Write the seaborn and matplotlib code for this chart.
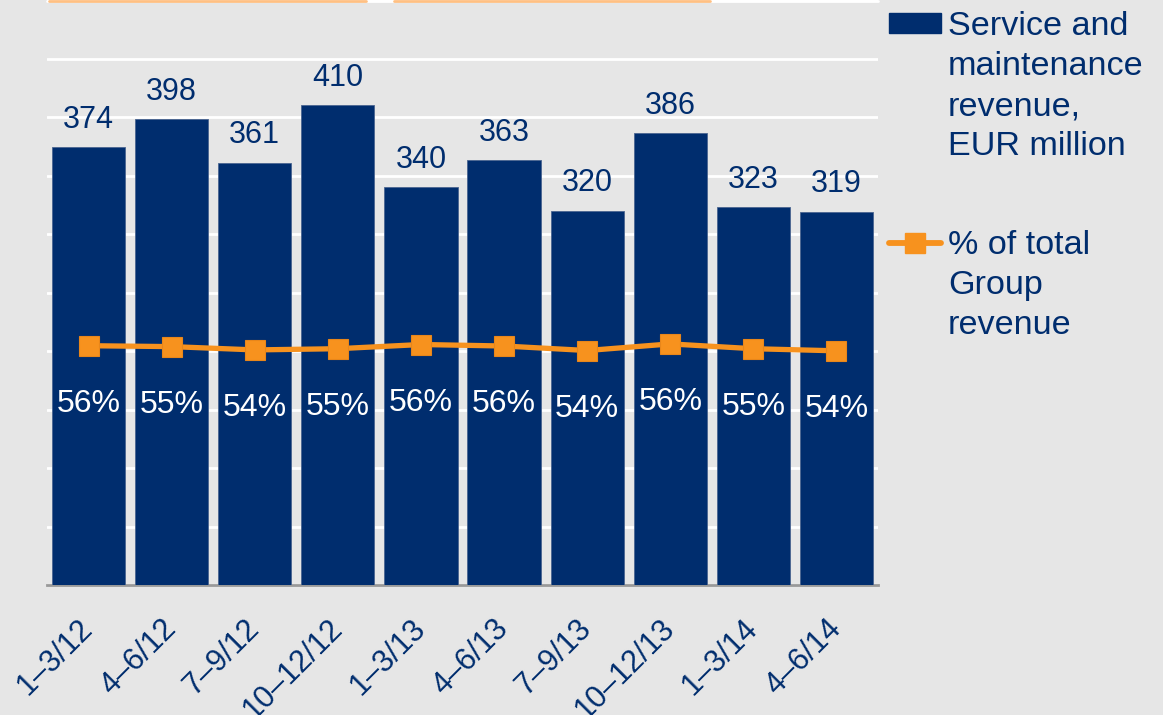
import matplotlib
matplotlib.use("Agg")
import matplotlib.pyplot as plt
import seaborn as sns
import numpy as np
import pandas as pd
from matplotlib.lines import Line2D
from matplotlib.patches import Patch

quarters = ["1–3/12", "4–6/12", "7–9/12", "10–12/12", "1–3/13",
            "4–6/13", "7–9/13", "10–12/13", "1–3/14", "4–6/14"]
revenue = [374, 398, 361, 410, 340, 363, 320, 386, 323, 319]
pct = [56, 55, 54, 55, 56, 56, 54, 56, 55, 54]
pct_pos = [55.8, 55.5, 54.4, 54.8, 56.2, 55.7, 54.2, 56.4, 54.8, 54.1]
legend_bar = ["Service and", "maintenance", "revenue,", "EUR million"]
legend_line = ["% of total", "Group", "revenue"]

NAVY = "#002d6e"
ORANGE = "#f7921e"
BG = "#e6e6e6"

sns.set_theme(style="white")
plt.rcParams["font.family"] = ["Liberation Sans", "DejaVu Sans"]

fig = plt.figure(figsize=(11.63, 7.15), dpi=100, facecolor=BG)
W, H = 1163, 715
ax = fig.add_axes([47 / W, 1 - 585 / H, (878 - 47) / W, 585 / H])
ax.set_facecolor(BG)

df = pd.DataFrame({"q": quarters, "rev": revenue})
sns.barplot(data=df, x="q", y="rev", ax=ax, color=NAVY, width=0.88,
            saturation=1, edgecolor="#4a6590", linewidth=0.6, zorder=3)
ax.set_ylim(0, 500)
ax.set_xlim(-0.5, 9.5)
ax.set_yticks(np.arange(0, 501, 50))
ax.set_yticklabels([])
ax.yaxis.grid(True, color="white", linewidth=2, zorder=0)
ax.set_axisbelow(True)
ax.tick_params(axis="y", length=0)
ax.tick_params(axis="x", length=0, pad=28)
for s in ["left", "right", "top"]:
    ax.spines[s].set_visible(False)
ax.spines["bottom"].set_color("#999999")
ax.spines["bottom"].set_linewidth(2)
ax.set_xlabel("")
ax.set_ylabel("")
ax.set_xticks(range(len(quarters)))
ax.set_xticklabels(quarters, rotation=45, ha="right", va="center",
                   rotation_mode="anchor", fontsize=22, color=NAVY)

ax.bar_label(ax.containers[0], labels=[str(v) for v in revenue],
             padding=9, fontsize=22, color=NAVY)

ax2 = ax.twinx()
ax2.set_ylim(-23.8, 170.8)
sns.lineplot(x=np.arange(len(pct)), y=pct_pos, ax=ax2, color=ORANGE,
             linewidth=3.8, marker="s", markersize=14.5, markeredgecolor="#e8861a",
             markeredgewidth=0.8, markerfacecolor=ORANGE, zorder=5)
ax2.set_yticks([])
for s in ax2.spines.values():
    s.set_visible(False)
ax2.set_ylabel("")
for i, (p, pp) in enumerate(zip(pct, pct_pos)):
    ax2.annotate(f"{p}%", (i, pp), xytext=(0, -42), textcoords="offset points",
                 ha="center", va="center", fontsize=23, color="white")

# top decoration lines
fig.add_artist(Line2D([47 / W, 878 / W], [1 - 0.5 / H] * 2, color="white", lw=2))
fig.add_artist(Line2D([49 / W, 366 / W], [1 - 0.5 / H] * 2, color="#ffc083", lw=2))
fig.add_artist(Line2D([394 / W, 710 / W], [1 - 0.5 / H] * 2, color="#ffc083", lw=2))

# legend: one entry per block, first line in the legend, rest as text lines
FS = 24.6
TEXT_X = 948
PITCH = 40
entries = [
    (Patch(facecolor=NAVY, edgecolor=NAVY), legend_bar, 35),
    (Line2D([0], [0], color=ORANGE, lw=4.2, marker="s", markersize=14.5,
            markerfacecolor=ORANGE, markeredgecolor=ORANGE), legend_line, 254),
]
legs = []
for handle, lines, base_y in entries:
    leg = fig.legend([handle], [lines[0]], loc="upper left",
                     bbox_to_anchor=(880 / W, 1 - (base_y - 35) / H),
                     frameon=False, fontsize=FS, handlelength=1.52,
                     handletextpad=0.2, handleheight=0.5,
                     borderaxespad=0, borderpad=0)
    leg.get_texts()[0].set_color(NAVY)
    legs.append((leg, lines, base_y))

fig.canvas.draw()
r = fig.canvas.get_renderer()
for leg, lines, base_y in legs:
    t = leg.get_texts()[0]
    bb = t.get_window_extent(r)
    _, _, d = r.get_text_width_height_descent("lp", t.get_fontproperties(), ismath=False)
    baseline = bb.y0 + d
    want = H - base_y
    dx = TEXT_X - bb.x0
    dy = want - baseline
    anc = leg.get_bbox_to_anchor()
    leg.set_bbox_to_anchor(((anc.x0 + dx) / W, (anc.y0 + dy) / H),
                           transform=fig.transFigure)
    for k, line in enumerate(lines[1:], start=1):
        fig.text(TEXT_X / W, (H - base_y - k * PITCH) / H, line,
                 ha="left", va="baseline", fontsize=FS, color=NAVY)

fig.savefig("out.png", dpi=100, facecolor=BG)
